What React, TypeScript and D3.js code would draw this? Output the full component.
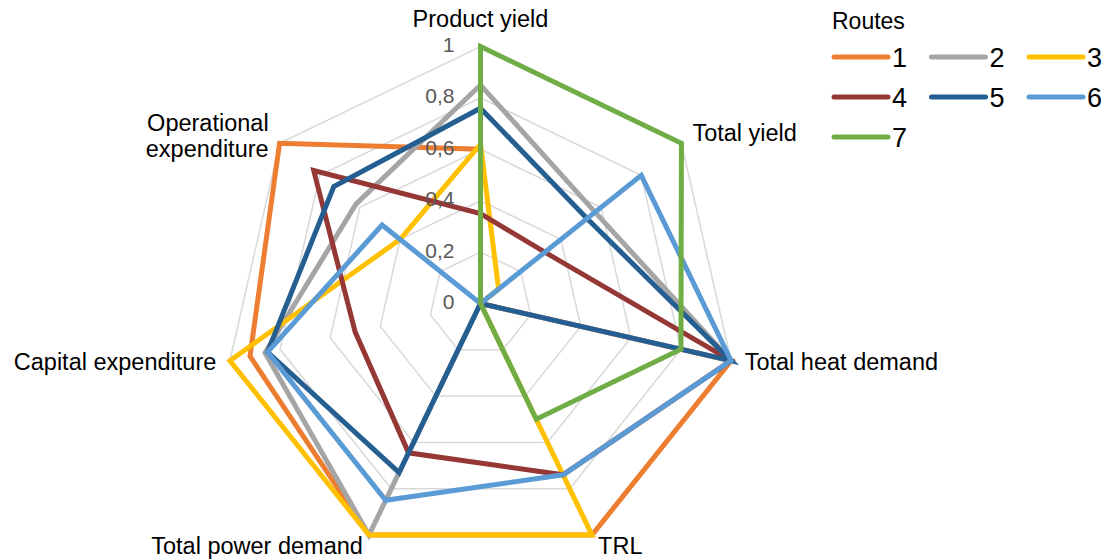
import React from "react";
import * as d3 from "d3";

const axes: string[][] = [
  ["Product yield"],
  ["Total yield"],
  ["Total heat demand"],
  ["TRL"],
  ["Total power demand"],
  ["Capital expenditure"],
  ["Operational", "expenditure"],
];
const ticks = [0, 0.2, 0.4, 0.6, 0.8, 1];
const tickLabels = ["0", "0,2", "0,4", "0,6", "0,8", "1"];
const routeNames = ["1", "2", "3", "4", "5", "6", "7"];
const routeColors = ["#ED7D31", "#A5A5A5", "#FFC000", "#953735", "#255E91", "#5B9BD5", "#70AD47"];
const route1 = [0.6, 0, 1, 1, 1, 0.92, 1];
const route2 = [0.85, 0.57, 1, 0, 1, 0.86, 0.62];
const route3 = [0.62, 0.09, 0, 1, 1, 1, 0.4];
const route4 = [0.35, 0.32, 1, 0.74, 0.645, 0.5, 0.83];
const route5 = [0.76, 0.53, 1, 0, 0.73, 0.85, 0.73];
const route6 = [0, 0.8, 1, 0.74, 0.85, 0.85, 0.49];
const route7 = [1, 1, 0.8, 0.5, 0, 0, 0];
const routes = [route1, route2, route3, route4, route5, route6, route7];

const W = 1113;
const H = 560;
const cx = 480.5;
const cy = 303.5;
const R = 257;
const FONT = "'Liberation Sans', Arial, sans-serif";

export default function App() {
  const n = axes.length;
  const angle = d3.scaleLinear().domain([0, n]).range([0, 2 * Math.PI]);
  const r = d3.scaleLinear().domain([0, 1]).range([0, R]);
  const pt = (i: number, v: number): [number, number] => {
    const a = angle(i) - Math.PI / 2;
    return [cx + r(v) * Math.cos(a), cy + r(v) * Math.sin(a)];
  };
  const closed = d3.line<[number, number]>().curve(d3.curveLinearClosed);

  return (
    <svg width={W} height={H} style={{ position: "absolute", left: 0, top: 0, display: "block", background: "#fff" }} fontFamily={FONT}>
      {ticks.filter((t) => t > 0).map((t) => (
        <path key={t} d={closed(d3.range(n).map((i) => pt(i, t))) || ""} fill="none" stroke="#D9D9D9" strokeWidth={1.5} />
      ))}
      {routes.map((vals, s) => (
        <path key={"r" + s} d={closed(vals.map((v, i) => pt(i, v))) || ""} fill="none" stroke={routeColors[s]} strokeWidth={5} strokeLinejoin="miter" />
      ))}
      {ticks.map((t, k) => (
        <text key={"tl" + k} x={cx - 26} y={cy - r(t)} textAnchor="end" dominantBaseline="middle" fontSize={21} fill="#595959">
          {tickLabels[k]}
        </text>
      ))}
      {axes.map((lines, i) => {
        const a = angle(i) - Math.PI / 2;
        const c = Math.cos(a);
        const lx = cx + (R + 14) * c;
        let ly = cy + (R + 14) * Math.sin(a);
        if (Math.abs(c) < 0.1) ly -= 12;
        if (lines.length > 1) ly += 3;
        const anchor = c > 0.1 ? "start" : c < -0.1 ? "end" : "middle";
        return (
          <text key={"ax" + i} x={lx} y={ly} textAnchor={anchor} fontSize={23.5} fill="#000">
            {lines.map((l, j) => (
              <tspan key={j} x={lx} y={ly + (j - (lines.length - 1) / 2) * 26} dominantBaseline="middle">
                {l}
              </tspan>
            ))}
          </text>
        );
      })}
      <text x={832} y={29} fontSize={23} fill="#000">Routes</text>
      {routeNames.map((name, s) => {
        const col = s % 3;
        const row = Math.floor(s / 3);
        const x0 = 834 + col * 97.5;
        const y0 = 57 + row * 40;
        return (
          <g key={"lg" + s}>
            <line x1={x0} y1={y0} x2={x0 + 54} y2={y0} stroke={routeColors[s]} strokeWidth={5} strokeLinecap="round" />
            <text x={x0 + 58} y={y0 + 9.5} fontSize={27} fill="#000">{name}</text>
          </g>
        );
      })}
    </svg>
  );
}
